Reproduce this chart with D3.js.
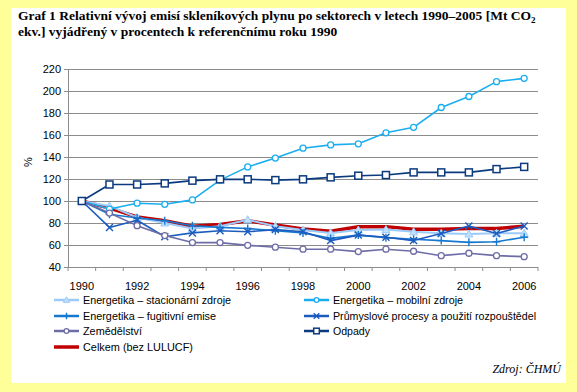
<!DOCTYPE html>
<html><head><meta charset="utf-8">
<script src="https://cdn.jsdelivr.net/npm/d3@7"></script>
<style>body{margin:0;background:#FFFF99;} svg{display:block;}</style>
</head><body>
<svg id="chart" width="577" height="392"></svg>
<script>
const years = [1990,1991,1992,1993,1994,1995,1996,1997,1998,1999,2000,2001,2002,2003,2004,2005,2006];
const yTicks = [40,60,80,100,120,140,160,180,200,220];
const xLabels = [1990,1992,1994,1996,1998,2000,2002,2004,2006];

const stacionarni = [100,95.5,85,80,75,77,83,77,73.6,71,73.6,74,72,70.6,70,70.6,70.6];
const mobilni     = [100,92.7,98,97,101,119,131,139,148,151,152,162,167,185,195,208.5,211.5];
const fugitivni   = [100,88,84.5,82,77.5,76,75,73,71,66,69,66.7,65.2,64,62.4,63,67];
const prumysl     = [100,76,82.5,67.5,71,73,72,74,72,64,69,67,64,70.5,77.3,70.5,77.3];
const zemedelstvi = [100,89,77.6,68.6,62.2,62.2,59.7,58,56.2,56.2,54,56.2,54.3,50.3,52.5,50.3,49.4];
const odpady      = [100,115,115,116,118.5,119.7,119.7,119,119.7,121.5,123,123.6,126,126,126,129,131];
const celkem      = [100,93.5,85.5,82,77,78.7,82,78.2,74.5,72.5,76.5,76.7,74.3,74.3,75,75,77];

const seriesNames = ["Energetika – stacionární zdroje","Energetika – mobilní zdroje","Energetika – fugitivní emise","Průmyslové procesy a použití rozpouštědel","Zemědělství","Odpady","Celkem (bez LULUCF)"];

const series = [
  {name:seriesNames[0], values:stacionarni, color:"#9CCBFA", width:2, marker:"triangle", fill:"#BFE0FF"},
  {name:seriesNames[1], values:mobilni, color:"#1AAEF0", width:1.6, marker:"circle", fill:"#fff"},
  {name:seriesNames[2], values:fugitivni, color:"#1679CF", width:1.6, marker:"plus"},
  {name:seriesNames[3], values:prumysl, color:"#1C5CBE", width:1.6, marker:"cross"},
  {name:seriesNames[4], values:zemedelstvi, color:"#6E6CA6", width:1.6, marker:"circle", fill:"#fff"},
  {name:seriesNames[5], values:odpady, color:"#0B3A7E", width:1.6, marker:"square", fill:"#fff"},
  {name:seriesNames[6], values:celkem, color:"#C00000", width:3.5, marker:null}
];

// legend layout (position of line sample, text width)
const legLayout = [[54,300,148],[304,300,130],[54,316,133],[304,316,203],[54,331,59],[304,331,37],[54,347,110]];

const svg = d3.select("#chart");
svg.append("rect").attr("width",577).attr("height",392).attr("fill","#FFFF99");
svg.append("rect").attr("x",11).attr("y",8).attr("width",555).attr("height",375).attr("fill","#fff");

// title
const title = svg.append("g").attr("font-family","'Liberation Serif','Times New Roman',serif").attr("font-weight","bold").attr("font-size","13.5px").attr("fill","#000");
const t1 = title.append("text").attr("x",18).attr("y",20);
t1.append("tspan").text("Graf 1 Relativní vývoj emisí skleníkových plynu po sektorech v letech 1990–2005 [Mt CO");
t1.append("tspan").attr("font-size","9px").attr("dy",3).text("2");
title.append("text").attr("x",18).attr("y",36).text("ekv.] vyjádřený v procentech k referenčnímu roku 1990");

const x = d3.scaleBand().domain(years).range([68,538]).padding(0);
const y = d3.scaleLinear().domain([40,220]).range([267,69]);
const cx = d => x(d) + x.bandwidth()/2;

// gridlines
svg.append("g").selectAll("line").data(yTicks).join("line")
  .attr("x1",68).attr("x2",538).attr("y1",d=>y(d)).attr("y2",d=>y(d))
  .attr("stroke","#8C8C8C").attr("stroke-width",1).attr("shape-rendering","crispEdges");

// y axis
const yAxis = svg.append("g").attr("transform","translate(68,0)")
  .call(d3.axisLeft(y).tickValues(yTicks).tickSize(4).tickPadding(3));
yAxis.select(".domain").attr("stroke","#8C8C8C");
yAxis.selectAll(".tick line").attr("stroke","#8C8C8C");
yAxis.selectAll("text").attr("font-family","'Liberation Sans',Arial,sans-serif").attr("font-size","11px").attr("fill","#000");

// x axis
const xAxis = svg.append("g").attr("transform","translate(0,267)");
xAxis.append("line").attr("x1",68).attr("x2",538).attr("stroke","#8C8C8C").attr("shape-rendering","crispEdges");
const bounds = years.map(d=>x(d)).concat([x(years[years.length-1])+x.bandwidth()]);
xAxis.selectAll("line.tk").data(bounds).join("line").attr("class","tk")
  .attr("x1",d=>d).attr("x2",d=>d).attr("y1",0).attr("y2",4).attr("stroke","#8C8C8C");
xAxis.selectAll("text").data(xLabels).join("text")
  .attr("x",d=>cx(d)).attr("y",23).attr("text-anchor","middle")
  .attr("font-family","'Liberation Sans',Arial,sans-serif").attr("font-size","11px").text(d=>d);

// % label
svg.append("text").attr("transform","translate(32,162) rotate(-90)").attr("text-anchor","middle")
  .attr("font-family","'Liberation Sans',Arial,sans-serif").attr("font-size","11px").text("%");

function drawMarker(g, s, px, py, scale){
  const k = scale||1;
  if(s.marker==="circle"){
    g.append("circle").attr("cx",px).attr("cy",py).attr("r",3*k).attr("fill",s.fill).attr("stroke",s.color).attr("stroke-width",1.3);
  } else if(s.marker==="square"){
    g.append("rect").attr("x",px-3.5*k).attr("y",py-3.5*k).attr("width",7*k).attr("height",7*k).attr("fill",s.fill).attr("stroke",s.color).attr("stroke-width",1.5);
  } else if(s.marker==="triangle"){
    g.append("path").attr("d",`M${px},${py-4*k}L${px+4*k},${py+3*k}L${px-4*k},${py+3*k}Z`).attr("fill",s.fill).attr("stroke",s.color).attr("stroke-width",1);
  } else if(s.marker==="plus"){
    g.append("path").attr("d",`M${px-4*k},${py}H${px+4*k}M${px},${py-4*k}V${py+4*k}`).attr("stroke",s.color).attr("stroke-width",1.4);
  } else if(s.marker==="cross"){
    g.append("path").attr("d",`M${px-3.5*k},${py-3.5*k}L${px+3.5*k},${py+3.5*k}M${px+3.5*k},${py-3.5*k}L${px-3.5*k},${py+3.5*k}`).attr("stroke",s.color).attr("stroke-width",1.4);
  }
}

const line = d3.line().x((d,i)=>cx(years[i])).y(d=>y(d));
const drawOrder = [6,0,1,2,3,4,5];
drawOrder.forEach(idx=>{
  const s = series[idx];
  const g = svg.append("g");
  g.append("path").attr("d",line(s.values)).attr("fill","none").attr("stroke",s.color).attr("stroke-width",s.width).attr("stroke-linejoin","round");
  if(s.marker) s.values.forEach((v,i)=>drawMarker(g,s,cx(years[i]),y(v)));
});

// legend
const leg = svg.append("g").attr("font-family","'Liberation Sans',Arial,sans-serif").attr("font-size","11.5px");
series.forEach((s,i)=>{
  const [lx,ly,tw] = legLayout[i];
  leg.append("line").attr("x1",lx).attr("x2",lx+25).attr("y1",ly).attr("y2",ly).attr("stroke",s.color).attr("stroke-width",s.width===3.5?3.5:2.5);
  if(s.marker) drawMarker(leg,s,lx+12.5,ly,0.8);
  leg.append("text").attr("x",lx+29).attr("y",ly+4).attr("textLength",tw).attr("lengthAdjust","spacingAndGlyphs").text(s.name);
});

svg.append("text").attr("x",561).attr("y",373).attr("text-anchor","end")
  .attr("font-family","'Liberation Serif','Times New Roman',serif").attr("font-style","italic").attr("font-size","12px").text("Zdroj: ČHMÚ");
</script>
</body></html>
